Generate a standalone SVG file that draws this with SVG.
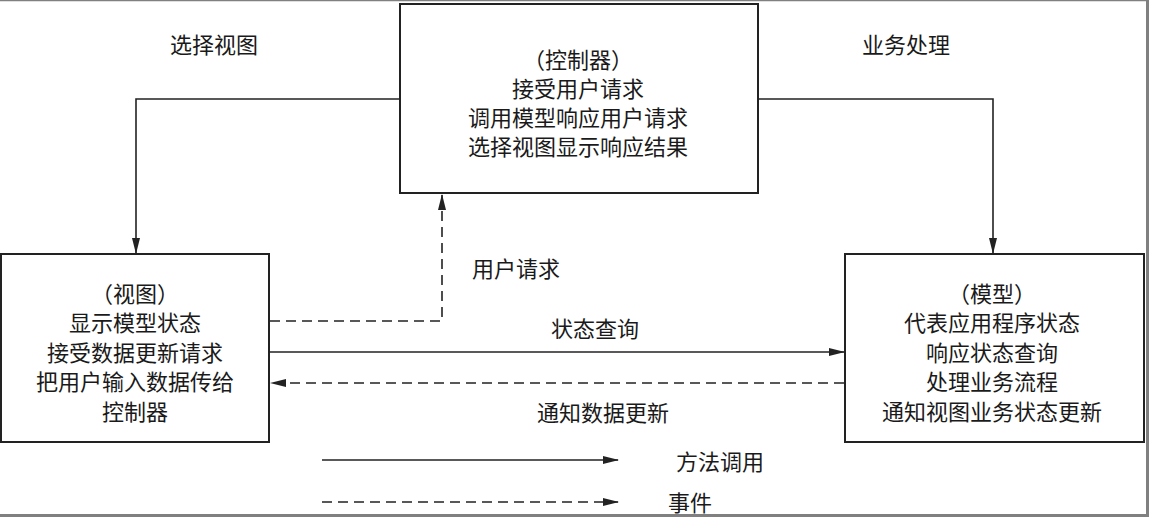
<svg xmlns="http://www.w3.org/2000/svg" width="1149" height="517" viewBox="0 0 1149 517">
<style>
.box{fill:#fff;stroke:#222;stroke-width:2}
.t{font-family:"Noto Sans CJK SC","Noto Sans",sans-serif;font-size:22px;fill:#1a1a1a;text-anchor:middle;dominant-baseline:central}
.c{fill:none;stroke:#222;stroke-width:1.6}
.d{stroke-dasharray:10 6}
.frame{stroke:#808080;fill:none}
</style>
<defs>
<marker id="ah" markerWidth="16" markerHeight="10" refX="15" refY="5" orient="auto" markerUnits="userSpaceOnUse">
<path d="M0,1 L16,5 L0,9 Z" fill="#222"/>
</marker>
</defs>
<rect width="1149" height="517" fill="#fff"/>
<g id="frame">
<line class="frame" x1="0" y1="0.5" x2="1149" y2="0.5" stroke-width="1.5"/>
<line class="frame" x1="1147.5" y1="0" x2="1147.5" y2="517" stroke-width="3"/>
<line class="frame" x1="0" y1="515.5" x2="1149" y2="515.5" stroke-width="3"/>
</g>
<g id="connectors">
<path class="c" d="M400,99 H136 V253" marker-end="url(#ah)"/>
<path class="c" d="M758,99 H993 V253" marker-end="url(#ah)"/>
<path class="c d" d="M270,321 H442 V195" marker-end="url(#ah)"/>
<path class="c" d="M270,352 H844" marker-end="url(#ah)"/>
<path class="c d" d="M844,383 H271" marker-end="url(#ah)"/>
<text class="t" x="214" y="43">选择视图</text>
<text class="t" x="906" y="43">业务处理</text>
<text class="t" x="516" y="267">用户请求</text>
<text class="t" x="595" y="327">状态查询</text>
<text class="t" x="603" y="411">通知数据更新</text>
</g>
<g id="controller">
<rect class="box" x="400" y="4" width="358" height="189"/>
<text class="t" x="578" y="58">（控制器）</text>
<text class="t" x="578" y="87">接受用户请求</text>
<text class="t" x="578" y="116">调用模型响应用户请求</text>
<text class="t" x="578" y="145">选择视图显示响应结果</text>
</g>
<g id="view">
<rect class="box" x="1" y="254" width="268" height="188"/>
<text class="t" x="135" y="292">（视图）</text>
<text class="t" x="135" y="321">显示模型状态</text>
<text class="t" x="135" y="350.5">接受数据更新请求</text>
<text class="t" x="135" y="380">把用户输入数据传给</text>
<text class="t" x="135" y="409.5">控制器</text>
</g>
<g id="model">
<rect class="box" x="845" y="254" width="299" height="188"/>
<text class="t" x="992" y="292">（模型）</text>
<text class="t" x="992" y="321">代表应用程序状态</text>
<text class="t" x="992" y="350.5">响应状态查询</text>
<text class="t" x="992" y="380">处理业务流程</text>
<text class="t" x="992" y="409.5">通知视图业务状态更新</text>
</g>
<g id="legend">
<path class="c" d="M322,460 H618" marker-end="url(#ah)"/>
<path class="c d" d="M322,502 H618" marker-end="url(#ah)"/>
<text class="t" x="720" y="460">方法调用</text>
<text class="t" x="690" y="501">事件</text>
</g>
</svg>
